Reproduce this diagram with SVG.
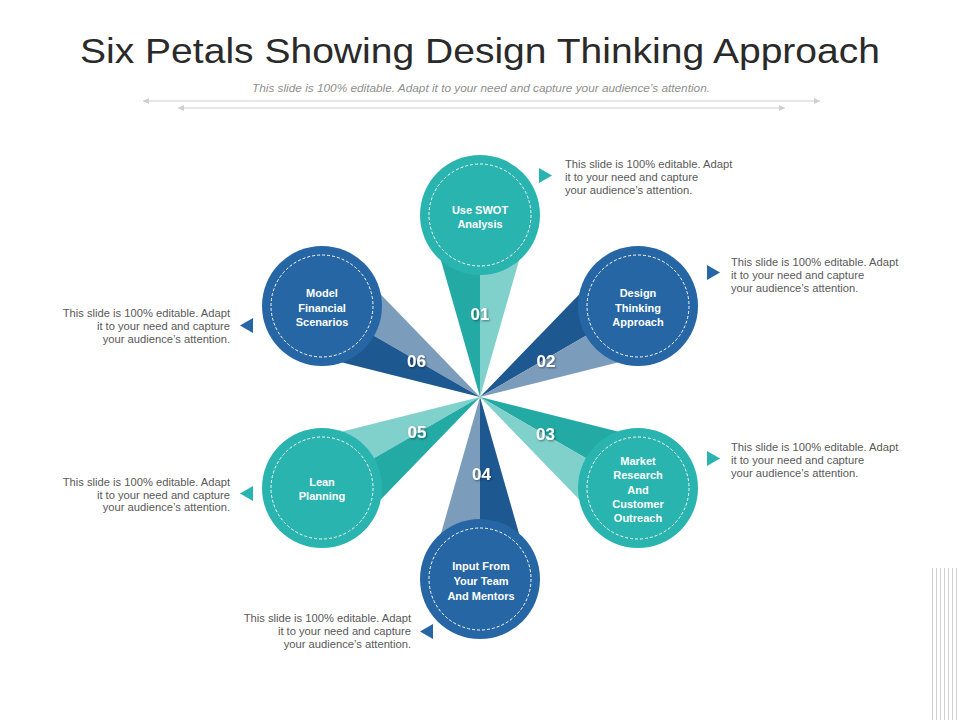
<svg xmlns="http://www.w3.org/2000/svg" width="960" height="720" viewBox="0 0 960 720">
<defs>
<style>
.title{font-family:"Liberation Sans",Arial,sans-serif;font-size:35px;fill:#2a2a2a;text-anchor:middle}
.sub{font-family:"Liberation Sans",Arial,sans-serif;font-size:10px;font-style:italic;fill:#8f8f8f;text-anchor:middle}
.lbl{font-family:"Liberation Sans",Arial,sans-serif;font-size:11px;font-weight:bold;fill:#fff;text-anchor:middle}
.num{font-family:"Liberation Sans",Arial,sans-serif;font-size:17px;font-weight:bold;fill:#fff;text-anchor:middle;filter:url(#sh)}
.cap{font-family:"Liberation Sans",Arial,sans-serif;font-size:11.2px;fill:#595959}
.capR{font-family:"Liberation Sans",Arial,sans-serif;font-size:11.2px;fill:#595959;text-anchor:end}
.teal{fill:#29b4af}
.blue{fill:#2666a4}
.tealD{fill:#23aaa5}
.tealL{fill:#80d0cc}
.blueD{fill:#1e5890}
.blueG{fill:#7c9cbb}
.dash{fill:none;stroke:#fff;stroke-width:1;stroke-dasharray:3 2}
.hl{stroke:#cfcfcf;stroke-width:1;fill:none}
.vl{stroke:#d0d0d0;stroke-width:1}
</style>
<filter id="sh" x="-20%" y="-20%" width="150%" height="150%">
<feDropShadow dx="1" dy="1" stdDeviation="0.8" flood-color="#000" flood-opacity="0.45"/>
</filter>
<marker id="ae" markerWidth="8" markerHeight="8" refX="6" refY="4" orient="auto" markerUnits="userSpaceOnUse">
<path d="M0,1 L6,4 L0,7 Z" fill="#cfcfcf"/>
</marker>
<marker id="as" markerWidth="8" markerHeight="8" refX="0" refY="4" orient="auto" markerUnits="userSpaceOnUse">
<path d="M6,1 L0,4 L6,7 Z" fill="#cfcfcf"/>
</marker>
</defs>
<rect width="960" height="720" fill="#fff"/>
<text class="title" x="480" y="63" textLength="800" lengthAdjust="spacingAndGlyphs">Six Petals Showing Design Thinking Approach</text>
<text class="sub" x="481" y="92" textLength="458" lengthAdjust="spacingAndGlyphs">This slide is 100% editable. Adapt it to your need and capture your audience’s attention.</text>
<g id="connectors">
<line class="hl" x1="143" y1="101" x2="820" y2="101" marker-start="url(#as)" marker-end="url(#ae)"/>
<line class="hl" x1="178" y1="108" x2="785" y2="108" marker-start="url(#as)" marker-end="url(#ae)"/>
</g>
<g id="decor">
<line class="vl" x1="932.5" y1="568" x2="932.5" y2="720"/>
<line class="vl" x1="936.5" y1="568" x2="936.5" y2="720"/>
<line class="vl" x1="940.5" y1="568" x2="940.5" y2="720"/>
<line class="vl" x1="944.5" y1="568" x2="944.5" y2="720"/>
<line class="vl" x1="948.5" y1="568" x2="948.5" y2="720"/>
<line class="vl" x1="952.5" y1="568" x2="952.5" y2="720"/>
<line class="vl" x1="956.5" y1="568" x2="956.5" y2="720"/>
</g>
<g id="petals">
<polygon class="tealD" points="480,397 428,215 480,215"/>
<polygon class="tealL" points="480,397 480,215 532,215"/>
<polygon class="blueD" points="480,397 611.6,261 637.6,306"/>
<polygon class="blueG" points="480,397 637.6,306 663.6,351"/>
<polygon class="tealD" points="480,397 663.6,443 637.6,488"/>
<polygon class="tealL" points="480,397 637.6,488 611.6,533"/>
<polygon class="blueG" points="480,397 428,579 480,579"/>
<polygon class="blueD" points="480,397 480,579 532,579"/>
<polygon class="tealL" points="480,397 296.4,443 322.4,488"/>
<polygon class="tealD" points="480,397 322.4,488 348.4,533"/>
<polygon class="blueG" points="480,397 348.4,261 322.4,306"/>
<polygon class="blueD" points="480,397 322.4,306 296.4,351"/>
</g>
<g id="node01">
<circle class="teal" cx="480" cy="215" r="60"/>
<circle class="dash" cx="480" cy="215" r="51"/>
<text class="lbl" x="480" y="214">Use SWOT</text>
<text class="lbl" x="480" y="228">Analysis</text>
<text class="num" x="480" y="320">01</text>
<polygon class="teal" points="539,168 539,183 552,175.5"/>
<text class="cap" x="565" y="167.5">This slide is 100% editable. Adapt</text>
<text class="cap" x="565" y="180.5">it to your need and capture</text>
<text class="cap" x="565" y="193.5">your audience’s attention.</text>
</g>
<g id="node02">
<circle class="blue" cx="638" cy="306" r="60"/>
<circle class="dash" cx="638" cy="306" r="51"/>
<text class="lbl" x="638" y="297">Design</text>
<text class="lbl" x="638" y="311.5">Thinking</text>
<text class="lbl" x="638" y="326">Approach</text>
<text class="num" x="546" y="367">02</text>
<polygon class="blue" points="707,265 707,280 720,272.5"/>
<text class="cap" x="731" y="266">This slide is 100% editable. Adapt</text>
<text class="cap" x="731" y="279">it to your need and capture</text>
<text class="cap" x="731" y="292">your audience’s attention.</text>
</g>
<g id="node03">
<circle class="teal" cx="638" cy="488" r="60"/>
<circle class="dash" cx="638" cy="488" r="51"/>
<text class="lbl" x="638" y="465">Market</text>
<text class="lbl" x="638" y="479">Research</text>
<text class="lbl" x="638" y="493.5">And</text>
<text class="lbl" x="638" y="508">Customer</text>
<text class="lbl" x="638" y="522">Outreach</text>
<text class="num" x="545.5" y="440">03</text>
<polygon class="teal" points="707,451 707,466 720,458.5"/>
<text class="cap" x="731" y="451">This slide is 100% editable. Adapt</text>
<text class="cap" x="731" y="464">it to your need and capture</text>
<text class="cap" x="731" y="477">your audience’s attention.</text>
</g>
<g id="node04">
<circle class="blue" cx="480" cy="579" r="60"/>
<circle class="dash" cx="480" cy="579" r="51"/>
<text class="lbl" x="481" y="570">Input From</text>
<text class="lbl" x="481" y="585">Your Team</text>
<text class="lbl" x="481" y="599.5">And Mentors</text>
<text class="num" x="481.5" y="480">04</text>
<polygon class="blue" points="433,624 433,639 420,631.5"/>
<text class="capR" x="411" y="622">This slide is 100% editable. Adapt</text>
<text class="capR" x="411" y="635">it to your need and capture</text>
<text class="capR" x="411" y="648">your audience’s attention.</text>
</g>
<g id="node05">
<circle class="teal" cx="322" cy="488" r="60"/>
<circle class="dash" cx="322" cy="488" r="51"/>
<text class="lbl" x="322" y="486">Lean</text>
<text class="lbl" x="322" y="500">Planning</text>
<text class="num" x="417" y="438">05</text>
<polygon class="teal" points="253,486 253,501 240,493.5"/>
<text class="capR" x="230" y="486">This slide is 100% editable. Adapt</text>
<text class="capR" x="230" y="498.5">it to your need and capture</text>
<text class="capR" x="230" y="511">your audience’s attention.</text>
</g>
<g id="node06">
<circle class="blue" cx="322" cy="306" r="60"/>
<circle class="dash" cx="322" cy="306" r="51"/>
<text class="lbl" x="322" y="297">Model</text>
<text class="lbl" x="322" y="311.5">Financial</text>
<text class="lbl" x="322" y="326">Scenarios</text>
<text class="num" x="416.5" y="367">06</text>
<polygon class="blue" points="253,318 253,333 240,325.5"/>
<text class="capR" x="230" y="316.5">This slide is 100% editable. Adapt</text>
<text class="capR" x="230" y="329.5">it to your need and capture</text>
<text class="capR" x="230" y="342.5">your audience’s attention.</text>
</g>
</svg>
